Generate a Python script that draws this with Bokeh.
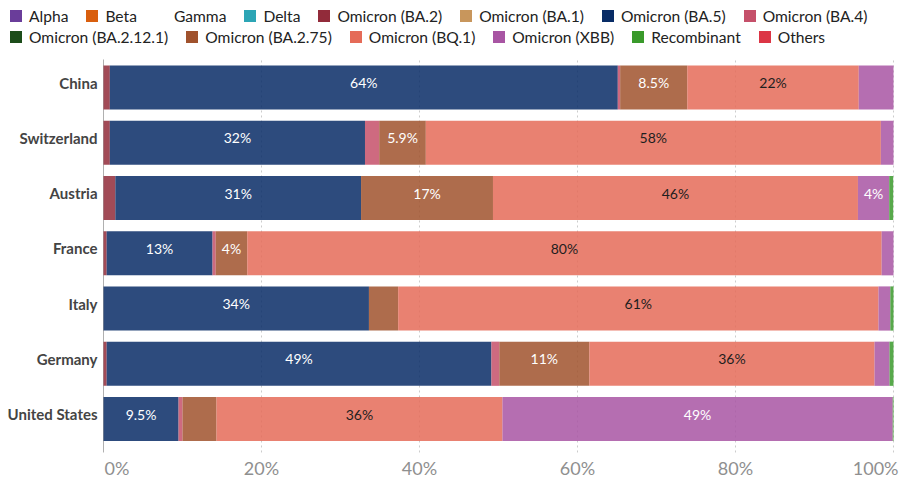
from bokeh.plotting import figure
from bokeh.models import Range1d, Legend, LegendItem, ColumnDataSource
from bokeh.core.properties import value
from bokeh.embed import file_html
from bokeh.resources import INLINE

countries = ["China", "Switzerland", "Austria", "France", "Italy", "Germany", "United States"]
variants = ["Alpha", "Beta", "Gamma", "Delta", "Omicron (BA.2)", "Omicron (BA.1)",
            "Omicron (BA.5)", "Omicron (BA.4)", "Omicron (BA.2.12.1)", "Omicron (BA.2.75)",
            "Omicron (BQ.1)", "Omicron (XBB)", "Recombinant", "Others"]
colors = ["#6a3d9a", "#d95f0e", "#ffffff", "#2ca5b5", "#922b3a", "#c8965c",
          "#082c66", "#c5506a", "#1c4d1a", "#a0522d",
          "#e56b58", "#a855a3", "#3a9a2b", "#dc3545"]

# shares (%) per variant, in country order
alpha = [0, 0, 0, 0, 0, 0, 0]
beta = [0, 0, 0, 0, 0, 0, 0]
gamma = [0, 0, 0, 0, 0, 0, 0]
delta = [0, 0, 0, 0, 0, 0, 0]
ba2 = [0.8, 0.8, 1.5, 0.4, 0.0, 0.4, 0.0]
ba1 = [0, 0, 0, 0, 0, 0, 0]
ba5 = [64.3, 32.3, 31.1, 13.4, 33.6, 48.7, 9.5]
ba4 = [0.3, 1.8, 0.0, 0.4, 0.0, 1.0, 0.5]
ba2121 = [0, 0, 0, 0, 0, 0, 0]
ba275 = [8.5, 5.9, 16.7, 4.0, 3.7, 11.4, 4.3]
bq1 = [21.7, 57.6, 46.2, 80.3, 60.8, 36.1, 36.2]
xbb = [4.4, 1.6, 3.96, 1.5, 1.5, 1.9, 49.4]
recombinant = [0.0, 0.0, 0.5, 0.0, 0.4, 0.5, 0.1]
others = [0, 0, 0, 0, 0, 0, 0]

x_ticks = [0, 20, 40, 60, 80, 100]
x_tick_labels = ["0%", "20%", "40%", "60%", "80%", "100%"]

series = [alpha, beta, gamma, delta, ba2, ba1, ba5, ba4, ba2121, ba275, bq1, xbb, recombinant, others]
dark_text = {"Omicron (BQ.1)"}

FONT = "Lato"
ypos = [len(countries) - 1 - i for i in range(len(countries))]

W, H = 900, 481
PX = 7.9          # pixels per percent
X0 = 103          # pixel of 0%
PITCH = 55.25     # pixels per row
Y_TOP_C = 87      # pixel of first row centre
TXT_UP = 5 / PITCH  # texts sit slightly above bar centres
x_lo = -X0 / PX
x_hi = (W - X0) / PX
y_hi = (len(countries) - 1) + Y_TOP_C / PITCH
y_lo = y_hi - H / PITCH
area_top = (len(countries) - 1) + 0.507
area_bot = -0.606

p = figure(width=W, height=H, output_backend="svg", toolbar_location=None,
           x_range=Range1d(x_lo, x_hi), y_range=Range1d(y_lo, y_hi),
           x_axis_location=None, y_axis_location=None,
           min_border_left=0, min_border_right=0, min_border_top=0, min_border_bottom=0)
p.outline_line_color = None
p.background_fill_color = "white"
p.border_fill_color = "white"
p.xgrid.visible = False
p.ygrid.visible = False

# grid lines (plot area only) and y axis line
p.segment(x0=x_ticks[1:], x1=x_ticks[1:], y0=[area_bot] * 5, y1=[area_top] * 5,
          line_color="#cccccc", line_dash="2 3", line_width=1)
p.segment(x0=[0], x1=[0], y0=[area_bot], y1=[area_top], line_color="#b0b0b0", line_width=1)

data = {"y": ypos}
for name, vals in zip(variants, series):
    data[name] = vals
source = ColumnDataSource(data)
p.hbar_stack(variants, y="y", height=0.8, color=colors, fill_alpha=0.85,
             line_color=None, source=source)

# segment labels
def fmt(v):
    if v >= 10:
        return f"{round(v)}%"
    s = f"{v:.1f}"
    if s.endswith(".0"):
        s = s[:-2]
    return s + "%"

lx, ly, lt, lc = [], [], [], []
for ci in range(len(countries)):
    start = 0.0
    for name, vals in zip(variants, series):
        v = vals[ci]
        if v > 0:
            t = fmt(v)
            if v * PX >= len(t) * 7 + 8:
                lx.append(start + v / 2)
                ly.append(ypos[ci] + TXT_UP)
                lt.append(t)
                lc.append("#1e1e1e" if name in dark_text else "#ffffff")
        start += v
p.text(x=lx, y=ly, text=lt, text_color=lc, text_align="center", text_baseline="middle",
       text_font=value(FONT), text_font_size="14px")

# category labels
p.text(x=[0] * len(countries), y=[y + TXT_UP for y in ypos], text=countries, x_offset=-6,
       text_align="right", text_baseline="middle", text_font=value(FONT),
       text_font_style="bold", text_font_size="15px", text_color="#444444")

# x tick labels
tick_y = area_bot - 15.5 / PITCH
p.text(x=x_ticks[1:-1], y=[tick_y] * 4, text=x_tick_labels[1:-1], text_align="center",
       text_baseline="middle", text_font=value(FONT), text_font_size="18px", text_color="#8f8f8f")
p.text(x=[x_ticks[0]], y=[tick_y], text=[x_tick_labels[0]], x_offset=1, text_align="left",
       text_baseline="middle", text_font=value(FONT), text_font_size="18px", text_color="#8f8f8f")
p.text(x=[x_ticks[-1]], y=[tick_y], text=[x_tick_labels[-1]], x_offset=5, text_align="right",
       text_baseline="middle", text_font=value(FONT), text_font_size="18px", text_color="#8f8f8f")

# legend swatches (one off-screen bar each so the swatch has a colour)
items = []
for name, c in zip(variants, colors):
    r = p.hbar(y=[y_lo - 5], left=[0], right=[1], height=0.8, fill_color=c, line_color=None,
               fill_alpha=0.0 if name == "Gamma" else 1.0)
    items.append(LegendItem(label=name, renderers=[r]))

def make_legend(its, loc):
    return Legend(items=its, orientation="horizontal", location=loc,
                  border_line_color=None, background_fill_alpha=0.0,
                  padding=0, margin=0, spacing=16, glyph_width=15, glyph_height=15,
                  label_standoff=6, label_height=17, label_text_font=FONT,
                  label_text_font_size="15.6px", label_text_color="#222222")

p.add_layout(make_legend(items[:8], (8, H - 24.5)), "center")
p.add_layout(make_legend(items[8:], (8, H - 45.5)), "center")

open("out.html", "w").write(file_html(p, INLINE))
